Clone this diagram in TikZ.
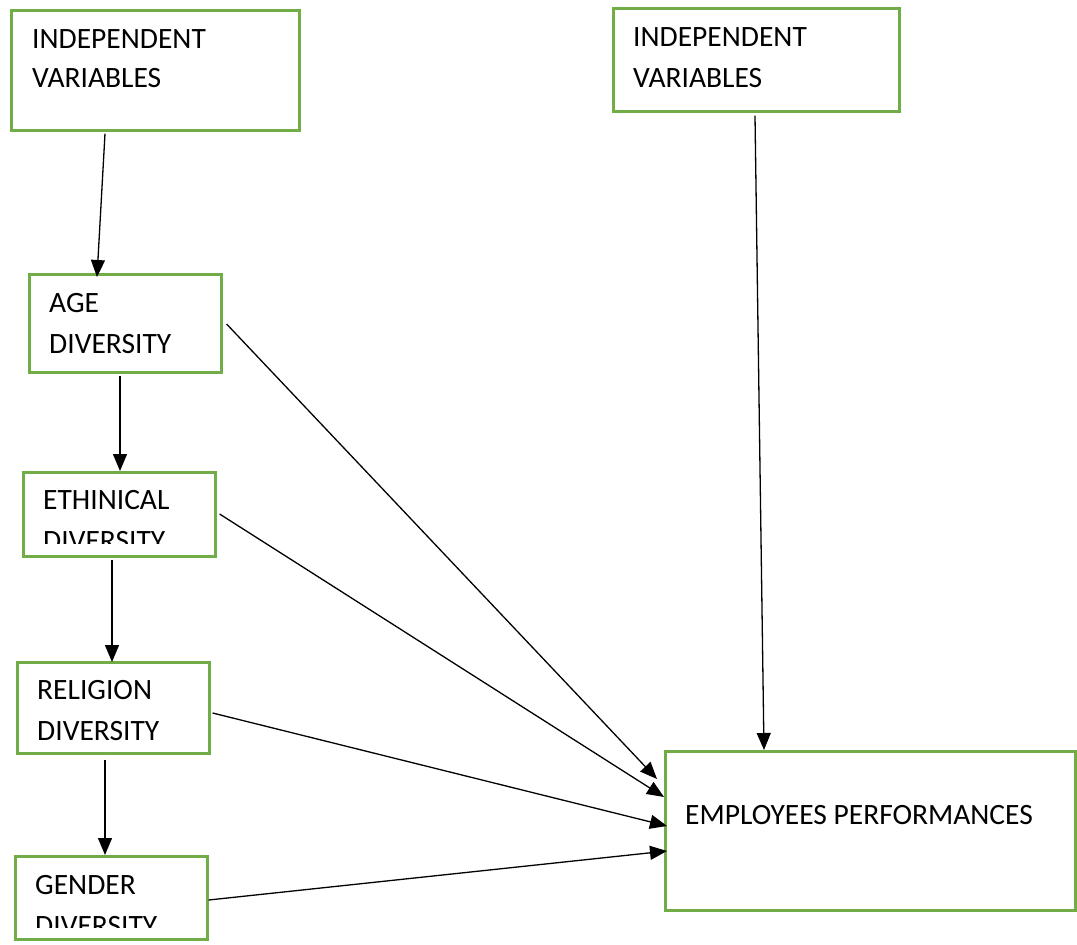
\documentclass[tikz,border=0pt]{standalone}
\usepackage{fontspec}
\setmainfont{Carlito}
\usetikzlibrary{arrows.meta,calc}
\definecolor{boxgreen}{HTML}{70AD47}
\begin{document}
\begin{tikzpicture}[x=1pt,y=-1pt,
  box/.style={draw=boxgreen,line width=2.6pt,anchor=north west,inner sep=0pt},
  lbl/.style={anchor=base west,inner sep=0pt,font=\fontsize{29.5}{35}\selectfont},
  arr/.style={-{Triangle[length=17pt,width=14pt]},line width=1.3pt,black}]
\useasboundingbox (0,0) rectangle (1077,945);
% boxes
\node[box,minimum width=288pt,minimum height=120pt] (iv1) at (10,9) {};
\node[box,minimum width=286pt,minimum height=103pt] (iv2) at (612,7) {};
\node[box,minimum width=192pt,minimum height=98pt] (age) at (28,273) {};
\node[box,minimum width=192pt,minimum height=84pt] (eth) at (22,471) {};
\node[box,minimum width=192pt,minimum height=91pt] (rel) at (16,661) {};
\node[box,minimum width=192pt,minimum height=83pt] (gen) at (14,855) {};
\node[box,minimum width=410pt,minimum height=159pt] (emp) at (664,750) {};
% texts
\node[lbl] (t1a) at (32,48) {INDEPENDENT};
\node[lbl] (t1b) at (32,87) {VARIABLES};
\node[lbl] (t2a) at (633,46) {INDEPENDENT};
\node[lbl] (t2b) at (633,87) {VARIABLES};
\node[lbl] (t3a) at (49,312) {AGE};
\node[lbl] (t3b) at (49,353) {DIVERSITY};
\begin{scope}
\clip (22,471) rectangle (214,543);
\node[lbl] (t4a) at (43,509) {ETHINICAL};
\node[lbl] (t4b) at (43,550) {DIVERSITY};
\end{scope}
\node[lbl] (t5a) at (37,699) {RELIGION};
\node[lbl] (t5b) at (37,740) {DIVERSITY};
\begin{scope}
\clip (14,855) rectangle (206,927);
\node[lbl] (t6a) at (35,894) {GENDER};
\node[lbl] (t6b) at (35,935) {DIVERSITY};
\end{scope}
\node[lbl] (t7) at (685,824) {EMPLOYEES PERFORMANCES};
% connectors
\draw[arr] ($(iv1.south west)+(95,2)$) -- ($(age.north west)+(69,4)$);
\draw[arr] ($(iv2.south west)+(143,3)$) -- ($(emp.north west)+(100,0)$);
\draw[arr] ($(age.south west)+(92,2)$) -- ($(eth.north west)+(98,0)$);
\draw[arr] ($(eth.south west)+(90,2)$) -- ($(rel.north west)+(96,1)$);
\draw[arr] ($(rel.south west)+(89,5)$) -- ($(gen.north west)+(91,0)$);
\draw[arr] ($(age.north east)+(4,51)$) -- ($(emp.north west)+(-7,29)$);
\draw[arr] ($(eth.north east)+(3,43)$) -- ($(emp.north west)+(0,47)$);
\draw[arr] ($(rel.north east)+(2,52)$) -- ($(emp.north west)+(3,76)$);
\draw[arr] ($(gen.north east)+(0,45)$) -- ($(emp.north west)+(3,101)$);
\end{tikzpicture}
\end{document}
